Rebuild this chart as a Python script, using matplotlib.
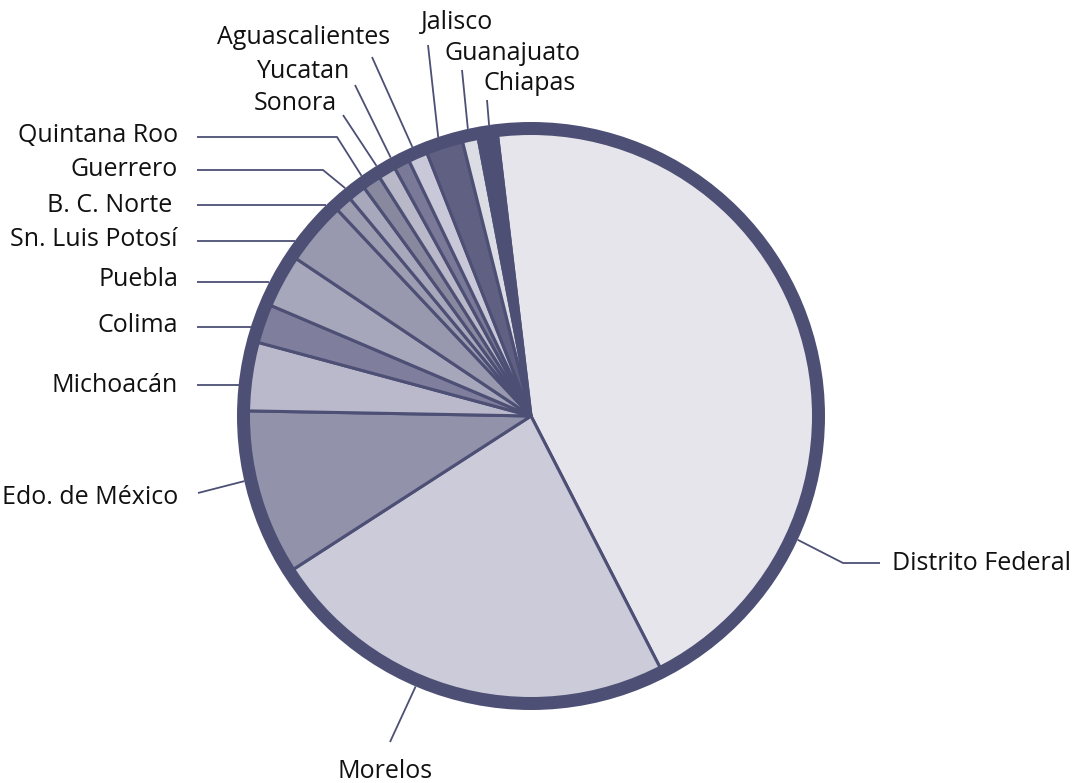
import numpy as np
import matplotlib.pyplot as plt
from matplotlib.patches import Circle

plt.rcParams['font.family'] = ['Open Sans', 'DejaVu Sans']

# participación por entidad (%), en el orden en que se dibuja (sentido horario)
estados = ["Distrito Federal", "Morelos", "Edo. de México", "Michoacán", "Colima",
           "Puebla", "Sn. Luis Potosí", "B. C. Norte", "Guerrero", "Quintana Roo",
           "Sonora", "Yucatan", "Aguascalientes", "Jalisco", "Guanajuato", "Chiapas"]
valores = [44.3, 23.4, 9.4, 3.9, 2.2, 3.0, 3.6, 0.95, 1.0, 1.05,
           1.0, 0.9, 1.1, 2.1, 0.9, 1.1]
colores = ["#e5e5eb", "#cbcbd9", "#9293ab", "#b9b9cb", "#7f7f9d", "#a7a7bb",
           "#9898ae", "#9d9db2", "#a8a8bc", "#88889f", "#b8b8c8", "#7a7a98",
           "#c8c8d8", "#5f6082", "#dcdce4", "#4d4f75"]

ANCHO, ALTO = 1084, 783
borde = "#4d4f75"
cx, cy = 531, 416          # centro en pixeles (desde arriba)
r_ext = 294
grosor = 13

def px(x, y):
    return x, ALTO - y

fig = plt.figure(figsize=(ANCHO / 100, ALTO / 100), dpi=100)
ax = fig.add_axes([0, 0, 1, 1])

r_pie = r_ext - grosor / 2
ax.pie(valores, colors=colores, startangle=96.8, counterclock=False,
       radius=r_pie, center=px(cx, cy),
       wedgeprops=dict(edgecolor=borde, linewidth=2.2, antialiased=True))
ax.add_patch(Circle(px(cx, cy), r_pie, fill=False, ec=borde, lw=grosor * 0.72, zorder=5))

# etiquetas: ángulo de anclaje (grados, horario desde arriba; None = línea horizontal),
# quiebres, posición del texto, alineación
etiquetas = {
    "Distrito Federal": (114.9, [(843, 563), (880, 563)], (892, 563), "left"),
    "Morelos":          (203.1, [(390, 742)], (385, 771), "center"),
    "Edo. de México":   (257.2, [(198, 493)], (178, 498), "right"),
    "Michoacán":        (None, [(197, 385)], (178, 385), "right"),
    "Colima":           (None, [(197, 327)], (178, 325), "right"),
    "Puebla":           (None, [(197, 282)], (178, 280), "right"),
    "Sn. Luis Potosí":  (None, [(197, 241)], (178, 240), "right"),
    "B. C. Norte":      (None, [(197, 205)], (172, 205), "right"),
    "Guerrero":         (320.8, [(323, 170), (197, 170)], (178, 169), "right"),
    "Quintana Roo":     (324.8, [(337, 137), (197, 137)], (178, 136), "right"),
    "Sonora":           (328.3, [(343, 115)], (295, 104), "center"),
    "Yucatan":          (331.5, [(355, 85)], (304, 72), "center"),
    "Aguascalientes":   (336.2, [(372, 57)], (304, 38), "center"),
    "Jalisco":          (341.6, [(428, 45)], (457, 22), "center"),
    "Guanajuato":       (347.6, [(462, 70)], (513, 54), "center"),
    "Chiapas":          (351.8, [(487, 100)], (530, 83), "center"),
}

for nombre, (ang, quiebres, pos_txt, alin) in etiquetas.items():
    if ang is None:
        yq = quiebres[0][1]
        x0 = cx - np.sqrt(r_ext ** 2 - (yq - cy) ** 2)
        y0 = yq
    else:
        a = np.radians(ang)
        x0 = cx + r_ext * np.sin(a)
        y0 = cy - r_ext * np.cos(a)
    puntos = [(x0, y0)] + quiebres
    xs = [p[0] for p in puntos]
    ys = [ALTO - p[1] for p in puntos]
    ax.plot(xs, ys, color=borde, lw=1.3, solid_capstyle="butt", zorder=1)
    ax.text(*px(*pos_txt), nombre, ha=alin, va="center", fontsize=18, color="#111111")

ax.set_xlim(0, ANCHO)
ax.set_ylim(0, ALTO)
ax.set_aspect("equal")
ax.axis("off")

fig.savefig("out.png", dpi=100, facecolor="white")
